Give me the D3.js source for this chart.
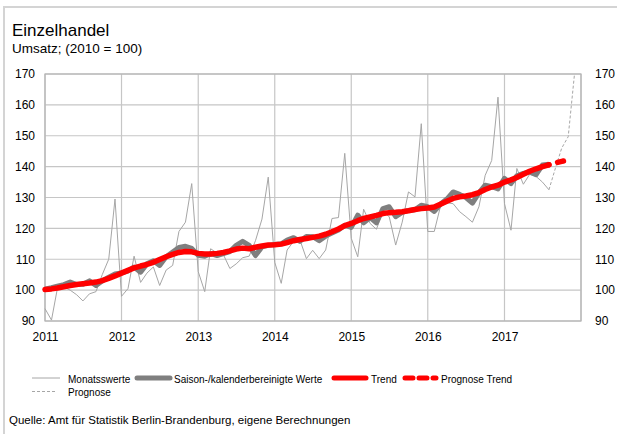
<!DOCTYPE html>
<html>
<head>
<meta charset="utf-8">
<script src="https://cdn.jsdelivr.net/npm/d3@7"></script>
<style>
  body { margin: 0; background: #fff; }
  svg text { font-family: "Liberation Sans", Arial, sans-serif; fill: #000; }
</style>
</head>
<body>
<div id="chart"></div>
<script>
// Monatswerte, Jan 2011 - Aug 2017
const monatswerte = [
  94.0, 90.3, 100.5, 101.0, 100.0, 98.5, 96.5, 98.8, 99.5, 105.0, 110.0, 129.5,
  98.0, 100.5, 111.0, 102.5, 105.5, 107.5, 101.5, 106.5, 108.0, 119.0, 122.0, 134.5,
  106.0, 99.5, 113.4, 112.0, 111.5, 107.0, 108.5, 110.5, 111.0, 116.0, 123.0, 136.6,
  109.0, 102.2, 113.0, 115.8, 116.3, 110.2, 112.9, 110.2, 113.0, 123.2, 123.5, 144.3,
  116.8, 110.8, 126.2, 121.6, 119.7, 125.4, 123.8, 114.6, 122.0, 131.8, 130.2, 153.9,
  119.0, 119.0, 127.0, 128.3, 128.0, 125.4, 123.8, 122.0, 127.0, 137.2, 142.0, 162.5,
  128.0, 119.4, 139.4, 134.3, 137.5, 136.8, 135.0, 132.5
];

// Prognose, Aug 2017 - Dez 2017
const prognose = [132.5, 139.5, 146.0, 149.7, 170.0];

// Saison-/kalenderbereinigte Werte, Jan 2011 - Aug 2017
const saisonbereinigt = [
  100.3, 100.8, 101.3, 101.8, 102.6, 101.8, 101.9, 103.0, 101.5, 103.0, 104.2, 105.2,
  105.6, 106.2, 107.5, 105.8, 108.5, 109.5, 108.0, 110.8, 112.3, 113.8, 114.2, 113.5,
  111.3, 111.0, 111.8, 111.2, 111.8, 112.5, 114.5, 115.8, 114.5, 111.2, 114.0, 114.5,
  114.8, 115.0, 116.2, 117.0, 115.8, 117.4, 117.3, 116.0, 117.5, 118.5, 119.5, 121.0,
  120.3, 124.3, 121.8, 123.5, 121.8, 126.4, 127.0, 123.8, 125.2, 125.8, 126.0, 127.5,
  127.0, 125.5, 127.8, 129.5, 131.8, 131.0, 130.0, 128.2, 131.5, 134.0, 133.5, 132.8,
  136.2, 134.5, 137.0, 137.8, 138.3, 137.4, 140.5, 140.8
];

// Trend, Jan 2011 - Aug 2017
const trend = [
  100.2, 100.4, 100.7, 101.1, 101.5, 101.8, 102.1, 102.3, 102.6, 103.1, 103.8, 104.6,
  105.5, 106.4, 107.2, 107.8, 108.3, 109.0, 109.9, 110.8, 111.6, 112.2, 112.5, 112.4,
  111.9, 111.7, 111.7, 111.9, 112.2, 112.7, 113.3, 113.6, 113.4, 113.9, 114.3, 114.6,
  114.7, 114.9, 115.4, 116.0, 116.4, 116.7, 117.1, 117.5, 118.1, 118.9, 119.8, 120.9,
  121.6, 122.5, 123.2, 123.7, 124.2, 124.8, 125.1, 125.2, 125.4, 125.7, 126.1, 126.4,
  126.6, 126.9, 127.8, 128.8, 129.7, 130.2, 130.5, 130.9, 131.6, 132.6, 133.4, 134.0,
  135.0, 135.7, 136.5, 137.5, 138.5, 139.3, 140.0, 140.6
];

// Prognose Trend, Aug 2017 - Nov 2017
const prognoseTrend = [140.6, 141.2, 141.7, 142.1];

// Axis ticks
const years = [2011, 2012, 2013, 2014, 2015, 2016, 2017];
const yTicks = [90, 100, 110, 120, 130, 140, 150, 160, 170];

// month index -> date
function monthDate(i) {
  return new Date(2011, i, 1);
}
// turn a value array into points, starting at a month index
function toPoints(values, start) {
  return values.map(function(v, i) { return {date: monthDate(start + i), value: v}; });
}

const W = 617, H = 434;
const plot = {left: 45, right: 581, top: 74, bottom: 321};
const font = '"Liberation Sans", Arial, sans-serif';

const svg = d3.select("#chart").append("svg")
  .attr("width", W)
  .attr("height", H);

// outer frame
svg.append("rect")
  .attr("x", 4).attr("y", 7)
  .attr("width", W + 20).attr("height", H + 20)
  .attr("fill", "none")
  .attr("stroke", "#d4d4d4")
  .attr("stroke-width", 2);

// title
svg.append("text").attr("x", 12).attr("y", 36)
  .style("font-size", "17px").text("Einzelhandel");
svg.append("text").attr("x", 12).attr("y", 53)
  .style("font-size", "13.5px").text("Umsatz; (2010 = 100)");

// scales
const x = d3.scaleTime()
  .domain([new Date(2011, 0, 1), new Date(2018, 0, 1)])
  .range([plot.left, plot.right]);
const y = d3.scaleLinear()
  .domain([90, 170])
  .range([plot.bottom, plot.top]);

// gridlines
svg.append("g").selectAll("line")
  .data(yTicks)
  .join("line")
    .attr("x1", plot.left).attr("x2", plot.right)
    .attr("y1", d => y(d)).attr("y2", d => y(d))
    .attr("stroke", "#c6c6c6").attr("stroke-width", 1.2);
svg.append("g").selectAll("line")
  .data(years.concat([2018]))
  .join("line")
    .attr("x1", d => x(new Date(d, 0, 1))).attr("x2", d => x(new Date(d, 0, 1)))
    .attr("y1", plot.top).attr("y2", plot.bottom)
    .attr("stroke", "#c6c6c6").attr("stroke-width", 1.2);
// plot border
svg.append("rect")
  .attr("x", plot.left).attr("y", plot.top)
  .attr("width", plot.right - plot.left).attr("height", plot.bottom - plot.top)
  .attr("fill", "none").attr("stroke", "#b4b4b4").attr("stroke-width", 1.2);

// axes (labels only)
const yLeft = svg.append("g")
  .attr("transform", `translate(${plot.left - 10},0)`)
  .call(d3.axisLeft(y).tickValues(yTicks).tickSize(0).tickPadding(0));
const yRight = svg.append("g")
  .attr("transform", `translate(${plot.right + 14},0)`)
  .call(d3.axisRight(y).tickValues(yTicks).tickSize(0).tickPadding(0));
const xAxis = svg.append("g")
  .attr("transform", `translate(0,${plot.bottom + 11})`)
  .call(d3.axisBottom(x).tickValues(years.map(d => new Date(d, 0, 1)))
    .tickFormat(d3.timeFormat("%Y")).tickSize(0).tickPadding(0));
[yLeft, yRight, xAxis].forEach(function(g) {
  g.select(".domain").remove();
  g.selectAll("text").style("font-family", font).style("font-size", "12px").attr("fill", "#000");
});

const line = d3.line()
  .x(d => x(d.date))
  .y(d => y(d.value));

// Monatswerte
svg.append("path")
  .datum(toPoints(monatswerte, 0))
  .attr("d", line)
  .attr("fill", "none").attr("stroke", "#a6a6a6").attr("stroke-width", 1);
// Prognose
svg.append("path")
  .datum(toPoints(prognose, monatswerte.length - 1))
  .attr("d", line)
  .attr("fill", "none").attr("stroke", "#a6a6a6").attr("stroke-width", 1)
  .attr("stroke-dasharray", "3,2");
// Saison-/kalenderbereinigte Werte
svg.append("path")
  .datum(toPoints(saisonbereinigt, 0))
  .attr("d", line)
  .attr("fill", "none").attr("stroke", "#7f7f7f").attr("stroke-width", 5)
  .attr("stroke-linejoin", "round");
// Trend
svg.append("path")
  .datum(toPoints(trend, 0))
  .attr("d", line)
  .attr("fill", "none").attr("stroke", "#ff0000").attr("stroke-width", 5.5)
  .attr("stroke-linejoin", "round").attr("stroke-linecap", "round");
// Prognose Trend
svg.append("path")
  .datum(toPoints(prognoseTrend, trend.length - 1))
  .attr("d", line)
  .attr("fill", "none").attr("stroke", "#ff0000").attr("stroke-width", 5.5)
  .attr("stroke-linecap", "round")
  .attr("stroke-dasharray", "0,9,6,5");

// legend
const legend = [
  {label: "Monatsswerte", x1: 32, x2: 60, tx: 68, y: 378, color: "#a6a6a6", width: 1, dash: null},
  {label: "Saison-/kalenderbereinigte Werte", x1: 137, x2: 170, tx: 174, y: 378, color: "#7f7f7f", width: 5, dash: null},
  {label: "Trend", x1: 334, x2: 366, tx: 371, y: 378, color: "#ff0000", width: 5, dash: null},
  {label: "Prognose Trend", x1: 405, x2: 436, tx: 441, y: 378, color: "#ff0000", width: 5, dash: "8,6"},
  {label: "Prognose", x1: 32, x2: 57, tx: 68, y: 391.5, color: "#a6a6a6", width: 1, dash: "3,2"}
];
const lg = svg.append("g").selectAll("g").data(legend).join("g");
lg.append("line")
  .attr("x1", d => d.x1).attr("x2", d => d.x2)
  .attr("y1", d => d.y).attr("y2", d => d.y)
  .attr("stroke", d => d.color).attr("stroke-width", d => d.width)
  .attr("stroke-linecap", d => d.width > 2 ? "round" : "butt")
  .attr("stroke-dasharray", d => d.dash);
lg.append("text")
  .attr("x", d => d.tx).attr("y", d => d.y + 4.5)
  .style("font-size", "10px")
  .text(d => d.label);

// source
svg.append("text").attr("x", 9).attr("y", 424)
  .style("font-size", "11.5px")
  .text("Quelle: Amt für Statistik Berlin-Brandenburg, eigene Berechnungen");
</script>
</body>
</html>
